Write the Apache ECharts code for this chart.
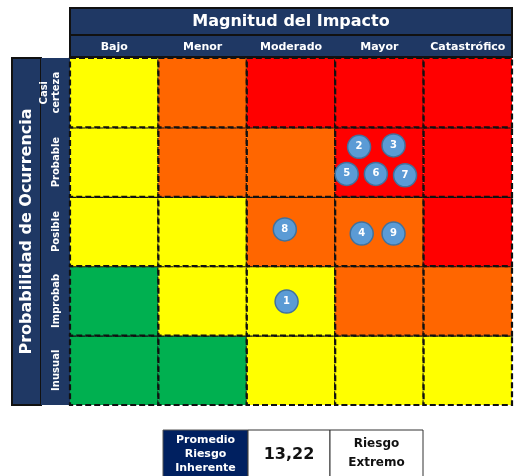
<!DOCTYPE html>
<html><head><meta charset="utf-8">
<script src="https://cdn.jsdelivr.net/npm/echarts@6/dist/echarts.min.js"></script>
<style>html,body{margin:0;padding:0;background:#fff}#c{width:522px;height:476px}</style>
</head><body><div id="c"></div>
<script>
// ---- data ----
const columns = ['Bajo', 'Menor', 'Moderado', 'Mayor', 'Catastrófico'];
const rows = ['Inusual', 'Improbab', 'Posible', 'Probable', 'Casi\ncerteza']; // bottom to top
// risk level for each cell, bottom row first (B=bajo, M=moderado, A=alto, E=extremo)
const levels = [
  ['B', 'B', 'M', 'M', 'M'],
  ['B', 'M', 'M', 'A', 'A'],
  ['M', 'M', 'A', 'A', 'E'],
  ['M', 'A', 'A', 'E', 'E'],
  ['M', 'A', 'E', 'E', 'E']
];
const riskIds = [1, 2, 3, 4, 5, 6, 7, 8, 9];
const riskImpact = [2.45, 3.27, 3.66, 3.30, 3.13, 3.46, 3.79, 2.43, 3.66];
const riskProb = [1.49, 3.72, 3.74, 2.47, 3.33, 3.33, 3.31, 2.53, 2.47];
const promedio = '13,22';
const nivel = 'Riesgo\nExtremo';
const titleX = 'Magnitud del Impacto';
const titleY = 'Probabilidad de Ocurrencia';
const summaryLabel = 'Promedio\nRiesgo\nInherente';

// ---- style ----
const palette = { B: '#00B050', M: '#FFFF00', A: '#FF6600', E: '#FF0000' };
const navy = '#1F3864';
const font = '"DejaVu Sans", Verdana, sans-serif';

const cells = [];
levels.forEach((r, yi) => r.forEach((lv, xi) => cells.push([xi, yi, lv])));
const risks = riskIds.map((id, i) => [riskImpact[i], riskProb[i], id]);

const chart = echarts.init(document.getElementById('c'), null, { renderer: 'canvas' });
const G = { left: 70, top: 58, width: 442, height: 347 };

chart.setOption({
  animation: false,
  backgroundColor: '#fff',
  grid: { left: G.left, top: G.top, width: G.width, height: G.height, containLabel: false },
  xAxis: [
    { type: 'value', min: 0, max: 5, show: false },
    { type: 'category', data: columns, position: 'top', z: 10,
      axisLine: { show: false }, axisTick: { show: false }, splitLine: { show: false },
      axisLabel: { color: '#fff', fontWeight: 'bold', fontSize: 11, fontFamily: font, margin: 5, interval: 0 } }
  ],
  yAxis: [
    { type: 'value', min: 0, max: 5, show: false },
    { type: 'category', data: rows, position: 'left', z: 10,
      axisLine: { show: false }, axisTick: { show: false }, splitLine: { show: false },
      axisLabel: { color: '#fff', fontWeight: 'bold', fontSize: 10, fontFamily: font, rotate: 90, margin: 8, interval: 0, lineHeight: 12, align: 'center' } }
  ],
  graphic: [
    // header box
    { type: 'rect', shape: { x: G.left, y: 8, width: G.width, height: 49 }, style: { fill: navy, stroke: '#111', lineWidth: 2 } },
    { type: 'line', shape: { x1: G.left, y1: 35, x2: G.left + G.width, y2: 35 }, style: { stroke: '#111', lineWidth: 2 } },
    { type: 'text', x: G.left + G.width / 2, y: 22, style: { text: titleX, fill: '#fff', font: 'bold 16px ' + font, align: 'center', verticalAlign: 'middle' } },
    // left boxes
    { type: 'rect', shape: { x: 12, y: G.top, width: 29, height: G.height }, style: { fill: navy, stroke: '#111', lineWidth: 2 } },
    { type: 'rect', shape: { x: 41, y: G.top, width: 29, height: G.height }, style: { fill: navy } },
    { type: 'text', x: 26.5, y: G.top + G.height / 2, rotation: Math.PI / 2, style: { text: titleY, fill: '#fff', font: 'bold 16px ' + font, align: 'center', verticalAlign: 'middle' } },
    // summary table
    { type: 'rect', shape: { x: 163, y: 430, width: 85, height: 50 }, style: { fill: '#002060', stroke: '#555', lineWidth: 1 } },
    { type: 'text', x: 205.5, y: 454, style: { text: summaryLabel, fill: '#fff', font: 'bold 11px ' + font, align: 'center', verticalAlign: 'middle', lineHeight: 14 } },
    { type: 'rect', shape: { x: 248, y: 430, width: 82, height: 50 }, style: { fill: '#fff', stroke: '#333', lineWidth: 1 } },
    { type: 'text', x: 289, y: 455, style: { text: promedio, fill: '#111', font: 'bold 16px ' + font, align: 'center', verticalAlign: 'middle' } },
    { type: 'rect', shape: { x: 330, y: 430, width: 93, height: 50 }, style: { fill: '#fff', stroke: '#333', lineWidth: 1 } },
    { type: 'text', x: 376.5, y: 453, style: { text: nivel, fill: '#111', font: 'bold 12px ' + font, align: 'center', verticalAlign: 'middle', lineHeight: 19 } }
  ],
  series: [
    {
      type: 'custom', xAxisIndex: 0, yAxisIndex: 0, data: cells, z: 2,
      renderItem: function (params, api) {
        const p = api.coord([api.value(0), api.value(1) + 1]);
        const s = api.size([1, 1]);
        const lv = cells[params.dataIndex][2];
        return {
          type: 'rect',
          shape: { x: p[0], y: p[1], width: s[0], height: s[1] },
          style: { fill: palette[lv], stroke: '#111', lineWidth: 2.2, lineDash: [6, 3] }
        };
      }
    },
    {
      type: 'scatter', xAxisIndex: 0, yAxisIndex: 0, data: risks, z: 5,
      symbolSize: 23,
      itemStyle: { color: '#5B9BD5', borderColor: '#41719C', borderWidth: 1.5, opacity: 1 },
      label: { show: true, position: 'inside', formatter: p => p.value[2], color: '#fff', fontWeight: 'bold', fontSize: 10, fontFamily: font }
    }
  ]
});
</script>
</body></html>
